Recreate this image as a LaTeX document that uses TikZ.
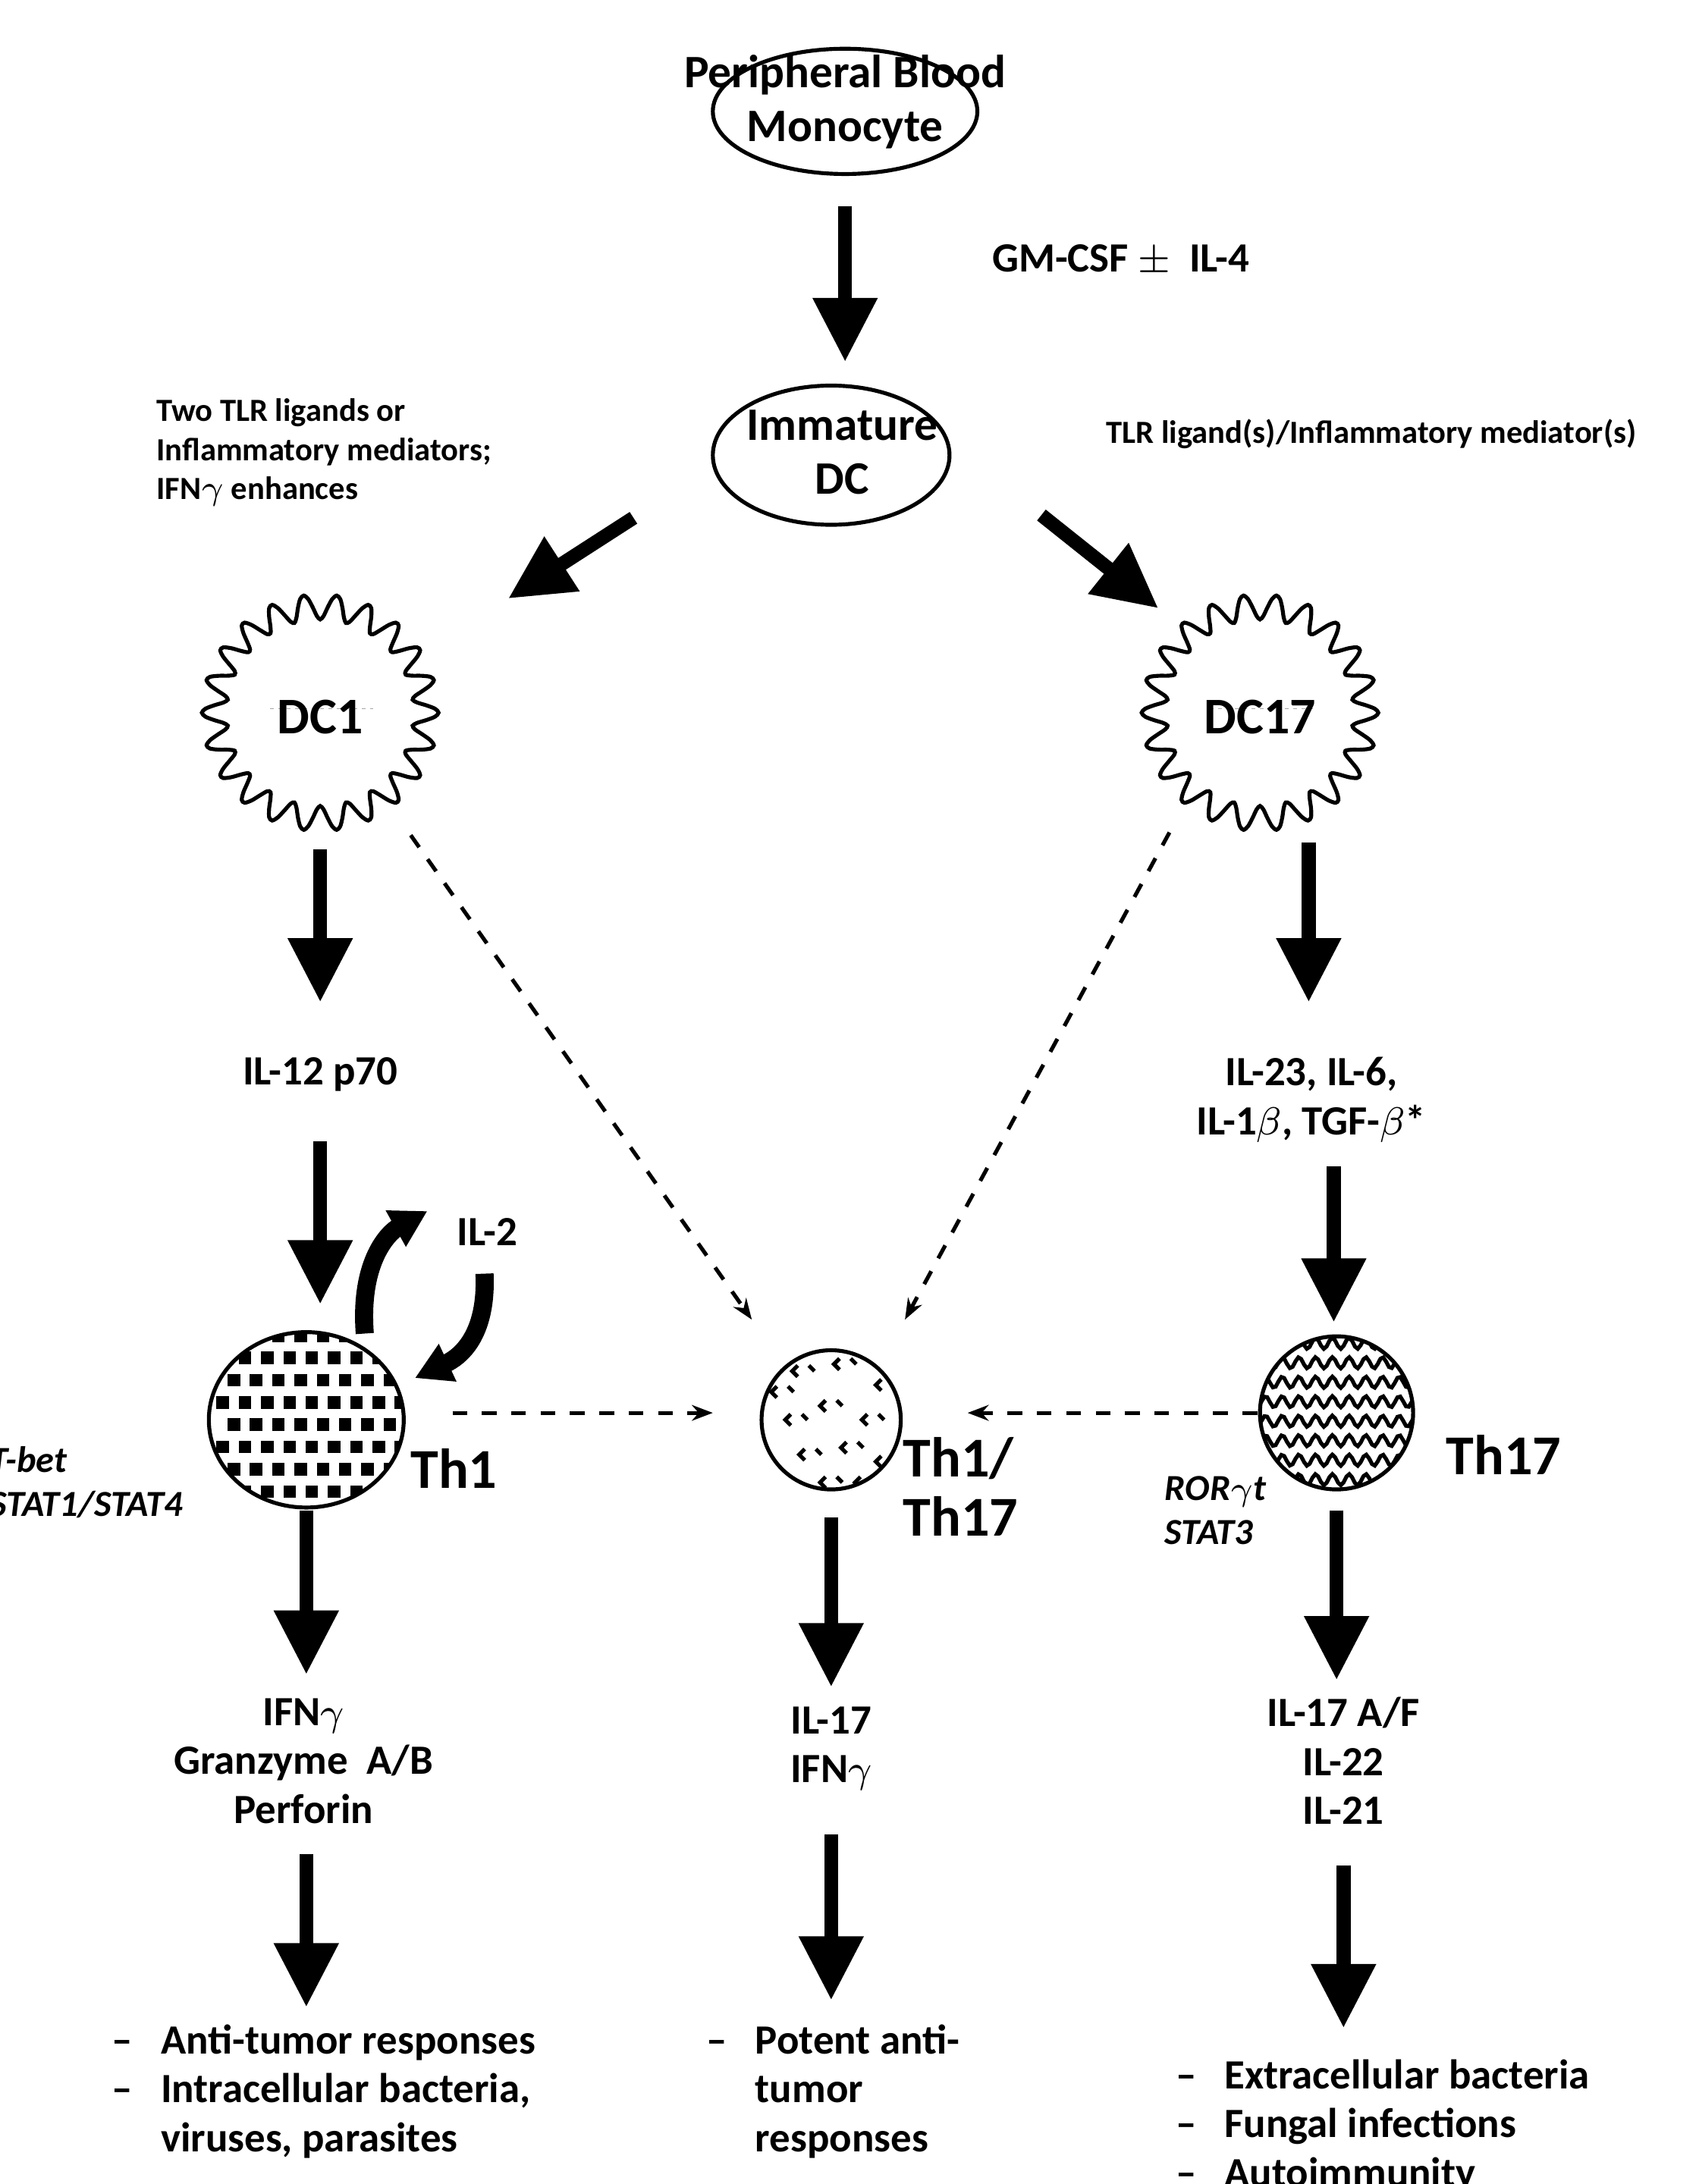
\documentclass[tikz,border=0pt]{standalone}
\usepackage{fontspec}
\setmainfont{Carlito}
\usetikzlibrary{arrows.meta}

\tikzset{
  big/.style={line width=0.1cm,-{Triangle[width=0.44cm,length=0.46cm]}},
  link/.style={thick,dashed,-{Stealth[length=0.15cm]}},
  cell/.style={draw,line width=0.8pt},
  lab/.style={font=\fontsize{8.5}{10}\selectfont\bfseries,align=center},
  small/.style={font=\fontsize{6.6}{8}\selectfont\bfseries,align=left},
  big name/.style={font=\fontsize{11.5}{12}\selectfont\bfseries,align=left}
}

\newcommand{\spiky}[1]{%
  \draw[line width=0.8pt,shift={(#1)}] plot[smooth cycle,domain=0:358,samples=180] (\x:{76+9*cos(22*\x)});
  \begin{scope}[shift={(#1)}]
    \clip (-38,-3) arc (180:360:38) -- cycle;
    \foreach \i in {-36,-30,...,36}
      \foreach \j in {-3,3,...,40}
        \fill (\i,\j) rectangle ++(2.5,2.5);
  \end{scope}}

\begin{document}
\begin{tikzpicture}[x=0.01cm,y=-0.01cm]
  \useasboundingbox (0,0) rectangle (1220,1569);

  % Monocyte and immature DC
  \draw[cell] (607,80) ellipse (95 and 45);
  \node[lab,font=\fontsize{9.5}{11}\selectfont\bfseries] (mono) at (607,73) {Peripheral Blood\\Monocyte};
  \draw[cell] (597,327) ellipse (85 and 50);
  \node[lab,font=\fontsize{9.5}{11}\selectfont\bfseries] (imdc) at (605,325) {Immature\\DC};
  \draw[big] (607,148) -- (607,260); % monocyte to immature DC
  \node[lab] (gm) at (805,187) {GM-CSF $\pm$\ \ IL-4};

  \node[small,anchor=west] (tlrl) at (100,325) {Two TLR ligands or\\Inflammatory mediators;\\IFN$\gamma$ enhances};
  \node[small] (tlrr) at (985,312) {TLR ligand(s)/Inflammatory mediator(s)};
  \draw[big] (455,372) -- (365,430); % to DC1
  \draw[big] (748,370) -- (832,437); % to DC17

  % Dendritic cells
  \spiky{230,512}
  \spiky{905,512}
  \node[big name,font=\fontsize{10.5}{12}\selectfont\bfseries] (dc1) at (230,515) {DC1};
  \node[big name,font=\fontsize{10.5}{12}\selectfont\bfseries] (dc17) at (905,515) {DC17};

  % Left column
  \draw[big] (230,610) -- (230,720);
  \node[lab] (il12) at (230,772) {IL-12 p70};
  \draw[big] (230,820) -- (230,937);

  % Right column
  \draw[big] (940,605) -- (940,720);
  \node[lab] (il23) at (942,790) {IL-23, IL-6,\\IL-1$\beta$, TGF-$\beta$*};
  \draw[big] (958,838) -- (958,950);

  % Th1 cell
  \begin{scope}
    \clip (220,1020) ellipse (70 and 63);
    \foreach \i in {150,166,...,290}
      \foreach \j in {955,971,...,1085}
        \fill ({\i+mod(\j,32)*0.5},\j) rectangle ++(9,9);
  \end{scope}
  \draw[cell] (220,1020) ellipse (70 and 63);
  \node[big name] (th1) at (326,1055) {Th1};
  \node[small,font=\fontsize{7.5}{9}\selectfont\bfseries\itshape] (tbet) at (62,1065) {T-bet\\STAT1/STAT4};

  % IL-2 loop
  \node[lab] (il2) at (350,885) {IL-2};
  \draw[line width=0.13cm,-{Triangle[width=0.28cm,length=0.26cm]}] (262,958) .. controls (258,905) and (280,885) .. (307,870);
  \draw[line width=0.13cm,-{Triangle[width=0.28cm,length=0.26cm]}] (348,915) .. controls (350,960) and (330,975) .. (298,990);

  % Th1/Th17 cell
  \begin{scope}
    \clip (597,1020) circle (50);
    \foreach \p in {(570,985),(600,980),(630,995),(565,1020),(590,1010),(620,1020),(575,1045),(605,1040),(630,1050),(590,1065),(555,1000),(615,1065)}
      \draw[thick] \p ++(3,-4) -- ++(-4,4) -- ++(4,4) ++(8,-8) -- ++(4,4);
  \end{scope}
  \draw[cell] (597,1020) circle (50);
  \node[big name] (th117) at (690,1068) {Th1/\\Th17};

  % Th17 cell
  \begin{scope}
    \clip (960,1015) circle (55);
    \foreach \j in {965,979,...,1075}
      \draw[thick] plot[domain=0:120,samples=60] ({\x+900},{\j+4*sin(\x*30)});
  \end{scope}
  \draw[cell] (960,1015) circle (55);
  \node[big name] (th17) at (1080,1045) {Th17};
  \node[small,font=\fontsize{7.5}{9}\selectfont\bfseries\itshape] (ror) at (873,1085) {ROR$\gamma$t\\STAT3};

  % Dashed links
  \draw[link] (295,600) -- (540,948);
  \draw[link] (840,598) -- (650,948);
  \draw[link] (325,1015) -- (512,1015);
  \draw[link] (903,1015) -- (695,1015);

  % Lower arrows and products
  \draw[big] (220,1085) -- (220,1203);
  \draw[big] (597,1090) -- (597,1212);
  \draw[big] (960,1085) -- (960,1207);
  \node[lab] (p1) at (218,1265) {IFN$\gamma$\\Granzyme\ \ A/B\\Perforin};
  \node[lab] (p2) at (597,1256) {IL-17\\IFN$\gamma$};
  \node[lab] (p3) at (965,1265) {IL-17 A/F\\IL-22\\IL-21};
  \draw[big] (220,1332) -- (220,1442);
  \draw[big] (597,1318) -- (597,1437);
  \draw[big] (965,1340) -- (965,1457);

  % Outcomes
  \node[lab,anchor=north west,align=left] (o1) at (68,1442) {--\ \ \ Anti-tumor responses\\--\ \ \ Intracellular bacteria,\\\phantom{--}\ \ \ viruses, parasites};
  \node[lab,anchor=north west,align=left] (o2) at (495,1442) {--\ \ \ Potent anti-\\\phantom{--}\ \ \ tumor\\\phantom{--}\ \ \ responses};
  \node[lab,anchor=north west,align=left] (o3) at (832,1467) {--\ \ \ Extracellular bacteria\\--\ \ \ Fungal infections\\--\ \ \ Autoimmunity};
\end{tikzpicture}
\end{document}
